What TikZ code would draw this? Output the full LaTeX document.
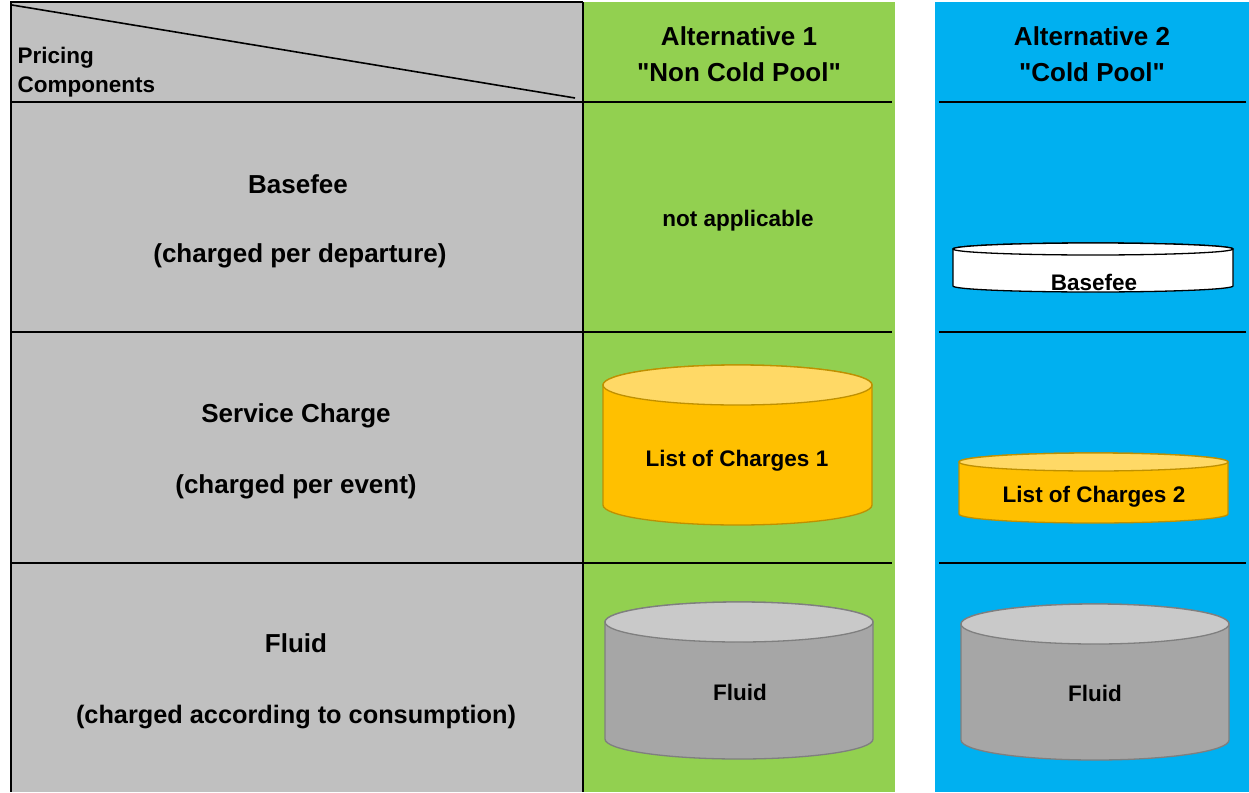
\documentclass[tikz,border=0pt]{standalone}
\usepackage{fontspec}
\setmainfont{Liberation Sans}
\usetikzlibrary{positioning}

\definecolor{cellgrey}{HTML}{C0C0C0}
\definecolor{altgreen}{HTML}{92D050}
\definecolor{altblue}{HTML}{00B0F0}
\definecolor{goldbody}{HTML}{FFC000}
\definecolor{goldtop}{HTML}{FFD966}
\definecolor{goldline}{HTML}{BF9000}
\definecolor{fluidbody}{HTML}{A6A6A6}
\definecolor{fluidtop}{HTML}{C9C9C9}
\definecolor{fluidline}{HTML}{7F7F7F}

% drum: center x, half width, top y, bottom y, ellipse ry, body, top, line
\newcommand{\drum}[8]{%
  \filldraw[fill=#6,draw=#8,line width=1.3pt]
    (#1-#2,-#3) -- (#1-#2,-#4)
    arc[start angle=180,end angle=360,x radius=#2,y radius=#5]
    -- (#1+#2,-#3)
    arc[start angle=0,end angle=180,x radius=#2,y radius=#5] -- cycle;
  \filldraw[fill=#7,draw=#8,line width=1.3pt]
    (#1,-#3) ellipse[x radius=#2,y radius=#5];
}

\begin{document}
\begin{tikzpicture}[x=1pt,y=1pt,
                    rule/.style={line width=2.6pt},
                    big label/.style={font=\fontsize{26}{30}\selectfont\bfseries},
                    small label/.style={font=\fontsize{22.5}{26}\selectfont\bfseries}]
  \useasboundingbox (0,0) rectangle (1249,-792);
  \fill[white] (0,0) rectangle (1249,-792);

  % columns
  \fill[cellgrey] (10,-2) rectangle (583,-792);
  \fill[altgreen] (583,-2) rectangle (895,-792);
  \fill[altblue] (935,-2) rectangle (1249,-792);

  % grid lines
  \draw[line width=2pt] (10,-2) -- (583,-2);
  \draw[line width=2pt] (11,-2) -- (11,-792);
  \draw[line width=2pt] (583,-2) -- (583,-792);
  \draw[line width=1.6pt] (12,-5) -- (575,-98);
  \foreach \y in {102,332,563} {
    \draw[rule] (10,-\y) -- (892,-\y);
    \draw[rule] (939,-\y) -- (1246,-\y);
  }

  % drums
  \drum{737.5}{134.5}{385}{505}{20}{goldbody}{goldtop}{goldline}
  \drum{739}{134}{622}{739}{20}{fluidbody}{fluidtop}{fluidline}
  \drum{1093}{140}{249}{286}{6}{white}{white}{black}
  \drum{1093.5}{134.5}{462}{514}{9}{goldbody}{goldtop}{goldline}
  \drum{1095}{134}{624}{740}{20}{fluidbody}{fluidtop}{fluidline}

  % header
  \node[small label,anchor=west] (pricing) at (14,-58) {Pricing};
  \node[small label,anchor=west] (components) at (14,-87) {Components};
  \node[big label] (alt1) at (739,-36) {Alternative 1};
  \node[big label] (alt1name) at (739,-72) {\textquotedbl Non Cold Pool\textquotedbl};
  \node[big label] (alt2) at (1092,-36) {Alternative 2};
  \node[big label] (alt2name) at (1092,-72) {\textquotedbl Cold Pool\textquotedbl};

  % row labels
  \node[big label] (base) at (298,-184) {Basefee};
  \node[big label] (basenote) at (300,-256) {(charged per departure)};
  \node[big label] (service) at (296,-416) {Service Charge};
  \node[big label] (servicenote) at (296,-487) {(charged per event)};
  \node[big label] (fluid) at (296,-643) {Fluid};
  \node[big label,font=\fontsize{25.3}{30}\selectfont\bfseries] (fluidnote) at (296,-717) {(charged according to consumption)};

  % cells
  \node[small label] (na) at (738,-221) {not applicable};
  \node[small label] (charges1) at (737,-461) {List of Charges 1};
  \node[small label] (fluid1) at (740,-692) {Fluid};
  \node[small label] (base2) at (1094,-282) {Basefee};
  \node[small label] (charges2) at (1094,-497) {List of Charges 2};
  \node[small label] (fluid2) at (1095,-693) {Fluid};
\end{tikzpicture}
\end{document}
